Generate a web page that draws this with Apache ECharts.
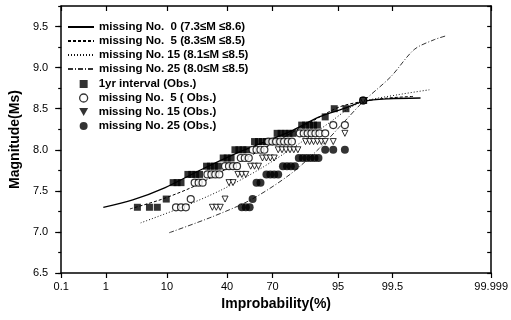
<!DOCTYPE html>
<html><head><meta charset="utf-8">
<script src="https://cdn.jsdelivr.net/npm/echarts@6/dist/echarts.min.js"></script>
<style>html,body{margin:0;padding:0;background:#fff}#c{width:511px;height:320px}</style>
</head><body><div id="c"></div>
<script>
// ---- axis ticks ----
const tickPercents = [0.1, 1, 10, 40, 70, 95, 99.5, 99.999];
const tickLabels = ['0.1', '1', '10', '40', '70', '95', '99.5', '99.999'];
const yTicks = [6.5, 7.0, 7.5, 8.0, 8.5, 9.0, 9.5];

// ---- series names ----
const fitNames = ['missing No.  0 (7.3\u2264M \u22648.6)', 'missing No.  5 (8.3\u2264M \u22648.5)',
  'missing No. 15 (8.1\u2264M \u22648.5)', 'missing No. 25 (8.0\u2264M \u22648.5)'];
const obsNames = ['1yr interval (Obs.)', 'missing No.  5 ( Obs.)', 'missing No. 15 (Obs.)', 'missing No. 25 (Obs.)'];

// ---- fitted curves: [improbability %, magnitude] ----
const fit0 = [[0.89,7.30],[3.1,7.39],[9.5,7.54],[24.5,7.76],[49.3,7.98],[79.4,8.22],[90.7,8.40],[96.25,8.51],[98.13,8.59],[99.38,8.62],[99.888,8.63]];
const fit5 = [[2.78,7.28],[8.7,7.40],[22.0,7.57],[42.7,7.80],[68.7,8.06],[87.7,8.33],[95.2,8.52],[98.13,8.59],[99.38,8.63],[99.84,8.65]];
const fit15 = [[4.18,7.11],[15.3,7.30],[36.2,7.51],[62.5,7.77],[83.9,8.08],[93.3,8.33],[96.6,8.50],[98.13,8.59],[99.62,8.67],[99.933,8.73]];
const fit25 = [[10.7,6.99],[30.1,7.18],[56.0,7.39],[79.5,7.70],[90.8,8.02],[96.0,8.34],[98.13,8.59],[99.46,8.89],[99.84,9.22],[99.95,9.34],[99.9775,9.39]];

// ---- observations: [improbability %, magnitude] ----
const obs1yr = [[3.7,7.3],[5.7,7.3],[7.4,7.3],[9.8,7.4],
  [12.0,7.6],[13.4,7.6],[14.9,7.6],
  [17.8,7.7],[19.6,7.7],[21.5,7.7],[23.5,7.7],
  [27.3,7.8],[29.5,7.8],[31.9,7.8],[34.3,7.8],
  [37.5,7.9],[40.1,7.9],[42.7,7.9],
  [45.3,8.0],[48.0,8.0],[50.7,8.0],[53.3,8.0],
  [58.6,8.1],[61.2,8.1],[63.8,8.1],[66.3,8.1],[68.7,8.1],[71.0,8.1],
  [72.7,8.2],[74.9,8.2],[77.0,8.2],[79.0,8.2],[80.9,8.2],
  [84.7,8.3],[86.2,8.3],[87.7,8.3],[89.0,8.3],[90.2,8.3],
  [92.3,8.4],[94.3,8.5],[96.25,8.5],[98.14,8.6]];
const obsMiss5 = [[13.0,7.3],[14.9,7.3],[16.9,7.3],[19.1,7.4],
  [21.0,7.6],[23.0,7.6],[25.1,7.6],
  [27.8,7.7],[30.1,7.7],[32.5,7.7],[35.0,7.7],
  [38.7,7.8],[41.3,7.8],[44.0,7.8],[46.7,7.8],
  [49.3,7.9],[52.0,7.9],[54.7,7.9],
  [57.3,8.0],[59.9,8.0],[62.5,8.0],[65.0,8.0],
  [67.5,8.1],[69.9,8.1],[72.1,8.1],[74.4,8.1],[76.5,8.1],[78.5,8.1],[80.4,8.1],
  [83.9,8.2],[85.5,8.2],[87.0,8.2],[88.3,8.2],[89.6,8.2],[90.8,8.2],[92.3,8.2],
  [94.1,8.3],[96.1,8.3],[98.1,8.6]];
const obsMiss15 = [[30.7,7.3],[33.1,7.3],[35.6,7.3],[38.7,7.4],
  [41.3,7.6],[44.0,7.6],
  [47.3,7.7],[50.0,7.7],[52.7,7.7],
  [56.0,7.8],[58.6,7.8],[61.2,7.8],
  [63.8,7.9],[66.3,7.9],[68.7,7.9],[71.0,7.9],
  [73.3,8.0],[75.4,8.0],[77.5,8.0],[79.5,8.0],[81.3,8.0],[83.1,8.0],
  [86.2,8.1],[87.7,8.1],[89.0,8.1],[90.2,8.1],[91.3,8.1],[92.3,8.1],[94.1,8.1],
  [96.1,8.2],[98.1,8.6]];
const obsMiss25 = [[50.0,7.3],[52.7,7.3],[55.3,7.3],[57.3,7.4],
  [59.9,7.6],[62.5,7.6],
  [66.3,7.7],[68.7,7.7],[71.0,7.7],[73.3,7.7],
  [75.9,7.8],[78.0,7.8],[79.9,7.8],[81.8,7.8],
  [83.5,7.9],[85.1,7.9],[86.6,7.9],[88.0,7.9],[89.3,7.9],[90.5,7.9],
  [92.3,8.0],[94.1,8.0],[96.1,8.0],[98.1,8.6]];

// ---- normal-probability scale (inverse normal CDF, Acklam) ----
function probit(p) {
  const a = [-3.969683028665376e+01, 2.209460984245205e+02, -2.759285104469687e+02, 1.383577518672690e+02, -3.066479806614716e+01, 2.506628277459239e+00];
  const b = [-5.447609879822406e+01, 1.615858368580409e+02, -1.556989798598866e+02, 6.680131188771972e+01, -1.328068155288572e+01];
  const c = [-7.784894002430293e-03, -3.223964580411365e-01, -2.400758277161838e+00, -2.549671348384729e+00, 4.374664141464968e+00, 2.938163982698783e+00];
  const d = [7.784695709041462e-03, 3.224671290700398e-01, 2.445134137142996e+00, 3.754408661907416e+00];
  const plow = 0.02425, phigh = 1 - plow;
  let q, r;
  if (p < plow) {
    q = Math.sqrt(-2 * Math.log(p));
    return (((((c[0]*q+c[1])*q+c[2])*q+c[3])*q+c[4])*q+c[5]) / ((((d[0]*q+d[1])*q+d[2])*q+d[3])*q+1);
  } else if (p <= phigh) {
    q = p - 0.5; r = q*q;
    return (((((a[0]*r+a[1])*r+a[2])*r+a[3])*r+a[4])*r+a[5])*q / (((((b[0]*r+b[1])*r+b[2])*r+b[3])*r+b[4])*r+1);
  } else {
    q = Math.sqrt(-2 * Math.log(1 - p));
    return -(((((c[0]*q+c[1])*q+c[2])*q+c[3])*q+c[4])*q+c[5]) / ((((d[0]*q+d[1])*q+d[2])*q+d[3])*q+1);
  }
}
const toXY = arr => arr.map(d => [probit(d[0] / 100), d[1]]);
const tickZ = tickPercents.map(p => probit(p / 100));
const zMin = tickZ[0], zMax = tickZ[tickZ.length - 1];
const xFmt = v => { const i = tickZ.findIndex(z => Math.abs(z - v) < 1e-4); return i >= 0 ? tickLabels[i] : ''; };

const FONT = 'Liberation Sans, Arial, sans-serif';
const axisLineStyle = { color: '#000', width: 1.5 };
const legendText = { fontFamily: FONT, fontSize: 11.5, fontWeight: 'bold', color: '#000', lineHeight: 14 };

const chart = echarts.init(document.getElementById('c'), null, { renderer: 'canvas' });
chart.setOption({
  animation: false,
  backgroundColor: '#fff',
  textStyle: { fontFamily: FONT, color: '#000' },
  grid: { left: 57, right: 16, top: 6, bottom: 47, containLabel: false },
  legend: [
    { orient: 'vertical', left: 67, top: 20, padding: 0, itemGap: 0, itemWidth: 26, itemHeight: 10,
      selectedMode: false, itemStyle: { opacity: 0 },
      data: fitNames, textStyle: legendText },
    { orient: 'vertical', left: 79, top: 77, padding: 0, itemGap: 0, itemWidth: 20, itemHeight: 8,
      selectedMode: false, symbolKeepAspect: true,
      data: [
        { name: obsNames[0], icon: 'path://M0,0L10,0L10,10L0,10Z', itemStyle: { color: '#000', borderWidth: 0 } },
        { name: obsNames[1], icon: 'path://M10,5A5,5,0,1,1,0,5A5,5,0,1,1,10,5Z', itemStyle: { color: '#fff', borderColor: '#000', borderWidth: 1.3 } },
        { name: obsNames[2], icon: 'path://M0,0L10,0L5,9Z', itemStyle: { color: '#000', borderWidth: 0 } },
        { name: obsNames[3], icon: 'path://M10,5A5,5,0,1,1,0,5A5,5,0,1,1,10,5Z', itemStyle: { color: '#000', borderWidth: 0 } }
      ],
      textStyle: legendText }
  ],
  xAxis: [
    { type: 'value', position: 'bottom', min: zMin, max: zMax,
      axisLine: { show: true, onZero: false, lineStyle: axisLineStyle },
      axisTick: { show: true, customValues: tickZ, length: 5, lineStyle: { color: '#000', width: 1.2 } },
      axisLabel: { customValues: tickZ, formatter: xFmt, margin: 8, fontSize: 11, color: '#000', fontFamily: FONT },
      splitLine: { show: false },
      name: 'Improbability(%)', nameLocation: 'middle', nameGap: 24,
      nameTextStyle: { fontSize: 14, fontWeight: 'bold', color: '#000', fontFamily: FONT } },
    { type: 'value', position: 'top', min: zMin, max: zMax,
      axisLine: { show: true, onZero: false, lineStyle: axisLineStyle },
      axisTick: { show: true, inside: true, customValues: tickZ, length: 5, lineStyle: { color: '#000', width: 1.2 } },
      axisLabel: { show: false }, splitLine: { show: false } }
  ],
  yAxis: [
    { type: 'value', position: 'left', min: 6.5, max: 9.75, interval: 0.25,
      axisLine: { show: true, onZero: false, lineStyle: axisLineStyle },
      axisTick: { show: true, length: 3, lineStyle: { color: '#000', width: 1.2 } },
      axisLabel: { customValues: yTicks, formatter: v => v.toFixed(1), margin: 13, fontSize: 11, color: '#000', fontFamily: FONT },
      splitLine: { show: false },
      name: 'Magnitude(Ms)', nameLocation: 'middle', nameGap: 33,
      nameTextStyle: { fontSize: 14, fontWeight: 'bold', color: '#000', fontFamily: FONT } },
    { type: 'value', position: 'left', min: 6.5, max: 9.75, interval: 0.5,
      axisLine: { show: false, onZero: false },
      axisTick: { show: true, customValues: yTicks, length: 6, lineStyle: { color: '#000', width: 1.2 } },
      axisLabel: { show: false }, splitLine: { show: false } },
    { type: 'value', position: 'right', min: 6.5, max: 9.75, interval: 0.25,
      axisLine: { show: true, onZero: false, lineStyle: axisLineStyle },
      axisTick: { show: true, inside: true, length: 4, lineStyle: { color: '#000', width: 1.2 } },
      axisLabel: { show: false }, splitLine: { show: false } }
  ],
  series: [
    { name: fitNames[0], type: 'line', symbol: 'none', smooth: 0.3, data: toXY(fit0), z: 1,
      itemStyle: { color: '#000' }, lineStyle: { color: '#000', width: 1.3, type: 'solid' } },
    { name: fitNames[1], type: 'line', symbol: 'none', smooth: 0.3, data: toXY(fit5), z: 1,
      itemStyle: { color: '#000' }, lineStyle: { color: '#000', width: 1, type: [3, 2] } },
    { name: fitNames[2], type: 'line', symbol: 'none', smooth: 0.3, data: toXY(fit15), z: 1,
      itemStyle: { color: '#000' }, lineStyle: { color: '#111', width: 1, type: [1, 2] } },
    { name: fitNames[3], type: 'line', symbol: 'none', smooth: 0.3, data: toXY(fit25), z: 1,
      itemStyle: { color: '#333' }, lineStyle: { color: '#333', width: 1, type: [5, 2, 1, 2] } },
    { name: obsNames[0], type: 'scatter', symbol: 'rect', symbolSize: 7, data: toXY(obs1yr), z: 3,
      itemStyle: { color: '#000' } },
    { name: obsNames[1], type: 'scatter', symbol: 'circle', symbolSize: 7, data: toXY(obsMiss5), z: 3,
      itemStyle: { color: '#fff', borderColor: '#000', borderWidth: 1.2 } },
    { name: obsNames[2], type: 'scatter', symbol: 'triangle', symbolRotate: 180, symbolSize: 6, data: toXY(obsMiss15), z: 3,
      itemStyle: { color: '#fff', borderColor: '#000', borderWidth: 1 } },
    { name: obsNames[3], type: 'scatter', symbol: 'circle', symbolSize: 8, data: toXY(obsMiss25), z: 3,
      itemStyle: { color: '#000' } }
  ]
});
</script>
</body></html>
